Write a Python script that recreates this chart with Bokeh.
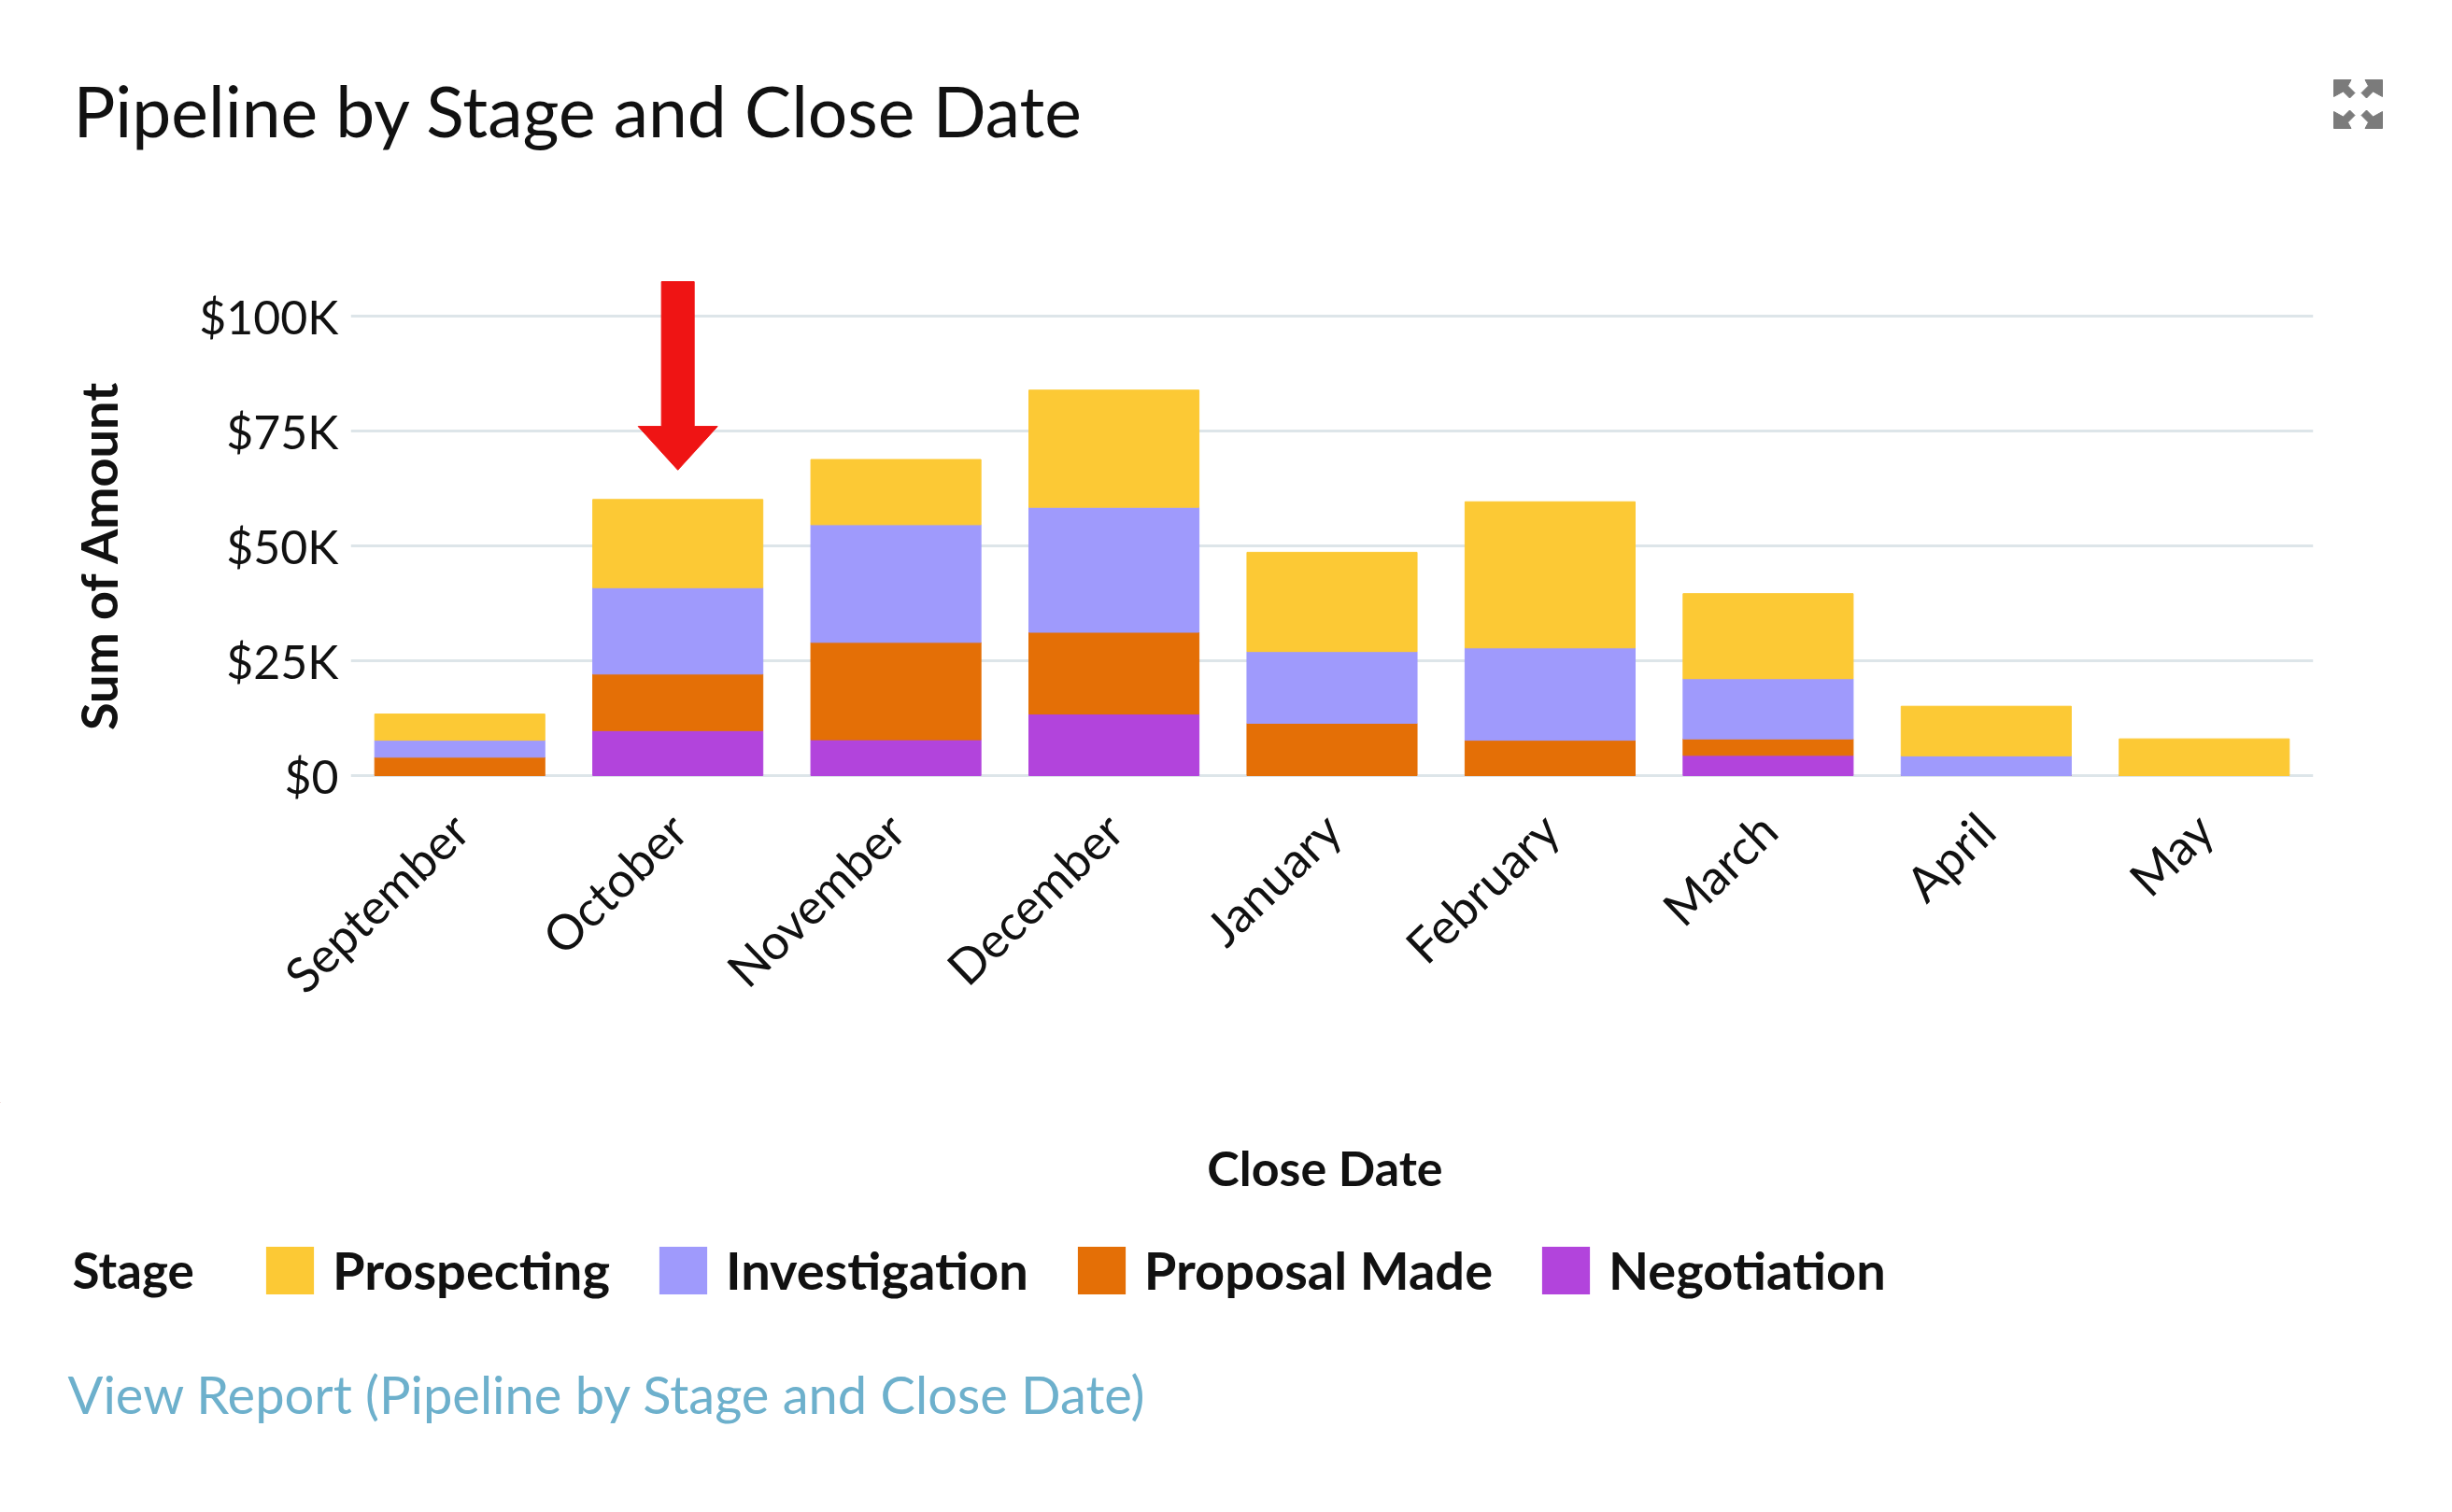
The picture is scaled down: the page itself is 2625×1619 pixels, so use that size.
import math
from bokeh.plotting import figure
from bokeh.layouts import column
from bokeh.models import (ColumnDataSource, FactorRange, Range1d, FixedTicker,
                          Label, Legend, LegendItem)
from bokeh.embed import file_html
from bokeh.resources import INLINE

# ---------------- data ----------------
months = ["September", "October", "November", "December", "January",
          "February", "March", "April", "May"]
stages = ["Prospecting", "Investigation", "Proposal Made", "Negotiation"]
prospecting = [5700, 19200, 14200, 25500, 21600, 31800, 18500, 10800, 8000]
investigation = [3700, 18800, 25600, 27200, 15600, 20100, 13100, 4300, 0]
proposal_made = [4000, 12300, 21200, 17800, 11400, 7700, 3600, 0, 0]
negotiation = [0, 9800, 7800, 13400, 0, 0, 4400, 0, 0]
stage_colors = ["#fcc935", "#9f9afc", "#e46f06", "#b244dc"]
ytick_values = [0, 25000, 50000, 75000, 100000]
ytick_labels = ["$0", "$25K", "$50K", "$75K", "$100K"]
highlight_month = "October"

FONT = "Lato"
TXT = "#111111"

# ---------------- page geometry (px) ----------------
W = 2617
HT, HM, HB = 200, 980, 431     # heights: title strip, chart, legend strip
FL, FR = 375, 2476             # chart frame left / right
FT, FB = 96, 692               # chart frame top / bottom (chart canvas)
Y0, Y100 = 630, 138            # chart-canvas pixels of $0 and $100K
K = (Y0 - Y100) / 100000.0

ALIGN_OFF = True


def no_align(f):
    global ALIGN_OFF
    try:
        f.frame_align = False
    except Exception:
        ALIGN_OFF = False


def strip_fig(h):
    f = figure(width=W, height=h, x_range=Range1d(0, W), y_range=Range1d(h, 0),
               x_axis_location=None, y_axis_location=None, min_border=0,
               output_backend="svg", toolbar_location=None)
    f.title.visible = False
    f.grid.visible = False
    f.outline_line_color = None
    f.background_fill_color = "white"
    f.border_fill_color = "white"
    no_align(f)
    return f


def add_label(f, text, x, y, size, bold=False, color=TXT, align="left",
              baseline="middle"):
    f.add_layout(Label(x=x, y=y, text=text, text_font=FONT,
                       text_font_size=f"{size}px",
                       text_font_style="bold" if bold else "normal",
                       text_color=color, text_align=align,
                       text_baseline=baseline))


# ================= title strip =================
top = strip_fig(HT)
add_label(top, "Pipeline by Stage and Close Date", 78, 117, 75)
# expand icon: four arrows pointing to the corners
icx, icy = 2524, 111
tl = [(-26, -26), (-7.5, -26), (-11, -19.5), (-3.5, -12), (-9, -6.5), (-16, -13.5), (-26, -8)]
ixs, iys = [], []
for sx, sy in [(1, 1), (-1, 1), (1, -1), (-1, -1)]:
    ixs.append([icx + sx * a for a, b in tl])
    iys.append([icy + sy * b for a, b in tl])
top.patches(ixs, iys, fill_color="#7b7b7b", line_color="#7b7b7b", line_width=1)

# ================= chart =================
p = figure(width=W, height=HM,
           x_range=FactorRange(factors=months),
           y_range=Range1d(-(FB - Y0) / K, (Y0 - FT) / K),
           output_backend="svg", toolbar_location=None,
           min_border_left=FL, min_border_right=W - FR,
           min_border_top=FT, min_border_bottom=HM - FB)
p.title.visible = False
p.outline_line_color = None
p.background_fill_color = "white"
p.border_fill_color = "white"
no_align(p)

src = ColumnDataSource(dict(month=months, prospecting=prospecting,
                            investigation=investigation,
                            proposal_made=proposal_made,
                            negotiation=negotiation))
stack_fields = ["negotiation", "proposal_made", "investigation", "prospecting"]
stack_colors = [stage_colors[3], stage_colors[2], stage_colors[1], stage_colors[0]]
p.vbar_stack(stack_fields, x="month", width=0.78, source=src,
             fill_color=stack_colors, line_color=stack_colors, line_width=1)

p.xgrid.grid_line_color = None
p.ygrid.grid_line_color = "#dde5e9"
p.ygrid.grid_line_width = 3
p.yaxis.ticker = FixedTicker(ticks=ytick_values)
p.yaxis.major_label_overrides = dict(zip(ytick_values, ytick_labels))
for ax in (p.xaxis, p.yaxis):
    ax.axis_line_color = None
    ax.major_tick_line_color = None
    ax.minor_tick_line_color = None
    ax.major_tick_out = 0
    ax.major_tick_in = 0
    ax.major_label_text_font = FONT
    ax.major_label_text_color = TXT
p.yaxis.major_label_text_font_size = "50px"
p.xaxis.major_label_text_font_size = "52px"
p.yaxis.major_label_standoff = 13
p.xaxis.major_label_standoff = -13
p.xaxis.major_label_orientation = math.radians(44)

p.yaxis.axis_label = "Sum of Amount"
p.yaxis.axis_label_text_font = FONT
p.yaxis.axis_label_text_font_style = "bold"
p.yaxis.axis_label_text_font_size = "54px"
p.yaxis.axis_label_text_color = TXT
p.yaxis.axis_label_standoff = 72

# red arrow pointing at the highlighted month
arrow_top, arrow_neck, arrow_tip = 107500, 76000, 66500
sw, hw = 0.075, 0.182
m = highlight_month
p.patch(x=[(m, -sw), (m, sw), (m, sw), (m, hw), (m, 0.0), (m, -hw), (m, -sw)],
        y=[arrow_top, arrow_top, arrow_neck, arrow_neck, arrow_tip, arrow_neck, arrow_neck],
        fill_color="#ef1414", line_color="#ef1414", line_width=1)

# ================= legend strip =================
bot = strip_fig(HB)
add_label(bot, "Close Date", 1418, 69, 52, bold=True, align="center")
add_label(bot, "Stage", 77, 179, 53, bold=True)
add_label(bot, "View Report (Pipeline by Stage and Close Date)", 72, 312, 56,
          color="#6db0cc")

swatches = {}
for s, c in zip(stages, stage_colors):
    # zero-height, off-canvas bar per stage, only used as the legend's colour key
    swatches[s] = bot.vbar(x=[-5000], top=[-5000], bottom=[-5000], width=1,
                           fill_color=c, line_color=c, line_alpha=0)
legend = Legend(items=[LegendItem(label=s, renderers=[swatches[s]]) for s in stages],
                orientation="horizontal", location=(278, HB - 148 - 65),
                glyph_width=64, glyph_height=64, label_height=51,
                label_standoff=14, spacing=46, padding=0, margin=0,
                border_line_alpha=0, background_fill_alpha=0,
                label_text_font=FONT, label_text_font_style="bold",
                label_text_font_size="56px", label_text_color=TXT,
                label_text_baseline="middle")
bot.add_layout(legend)

if ALIGN_OFF:
    page = column(top, p, bot, spacing=0)
else:
    page = column(column(top), column(p), column(bot), spacing=0)
open("out.html", "w").write(file_html(page, INLINE))
